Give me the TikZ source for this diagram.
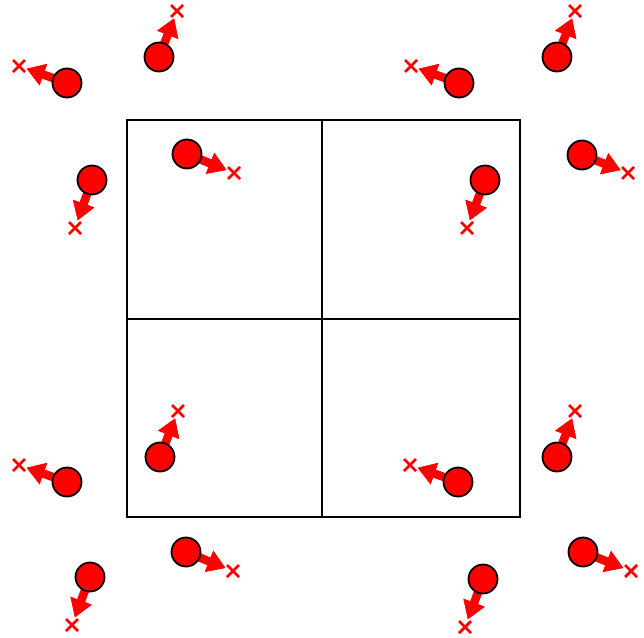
\documentclass[tikz,border=0pt]{standalone}
\usetikzlibrary{calc}
\definecolor{pred}{RGB}{255,0,0}
\tikzset{
  ball/.style={circle,draw=black,fill=pred,line width=1.8pt,minimum size=29pt,inner sep=0pt},
  shaft/.style={pred,line width=8.5pt},
  headfill/.style={fill=pred,draw=pred,line width=0.6pt,line join=miter},
  cross/.style={pred,line width=2.8pt},
  boxline/.style={black,line width=1.4pt}
}
\begin{document}
\begin{tikzpicture}[x=1pt,y=-1pt]
\useasboundingbox (0,0) rectangle (644,637);
\coordinate (b1) at (127,120);
\coordinate (b2) at (520,517);
\coordinate (v1) at (322,120);
\coordinate (v2) at (322,517);
\coordinate (h1) at (127,319);
\coordinate (h2) at (520,319);
\draw[boxline] (b1) rectangle (b2);
\draw[boxline] (v1) -- (v2);
\draw[boxline] (h1) -- (h2);
\foreach \n/\x/\y/\dx/\dy in {
  1/187/154/47/19, 2/485/180/-18/48, 3/160/457/18/-46, 4/458/482/-48/-17,
  5/67/83/-48/-17, 6/159/57/18/-46, 7/459/83/-48/-17, 8/557/57/18/-46,
  9/92/180/-17/48, 10/582/155/46/18, 11/67/482/-48/-17, 12/557/457/18/-46,
  13/186/552/47/19, 14/583/552/48/19, 15/90/577/-18/48, 16/483/579/-18/48}{
  \coordinate (c\n) at (\x,\y);
  \coordinate (t\n) at ($(c\n)+0.83*(\dx,\dy)$);
  \coordinate (m\n) at ($(c\n)+(\dx,\dy)$);
  \coordinate (s\n) at ($(t\n)!17pt!(c\n)$);
  \coordinate (q\n) at ($(t\n)!15pt!(c\n)$);
  \coordinate (l\n) at ($(s\n)!11pt!90:(t\n)$);
  \coordinate (r\n) at ($(s\n)!11pt!-90:(t\n)$);
  \draw[shaft] (c\n) -- (q\n);
  \draw[headfill] (t\n) -- (l\n) -- (r\n) -- cycle;
  \node[ball] (p\n) at (c\n) {};
  \draw[cross] ($(m\n)+(-6,-6)$) -- ($(m\n)+(6,6)$);
  \draw[cross] ($(m\n)+(-6,6)$) -- ($(m\n)+(6,-6)$);
}
\end{tikzpicture}
\end{document}
